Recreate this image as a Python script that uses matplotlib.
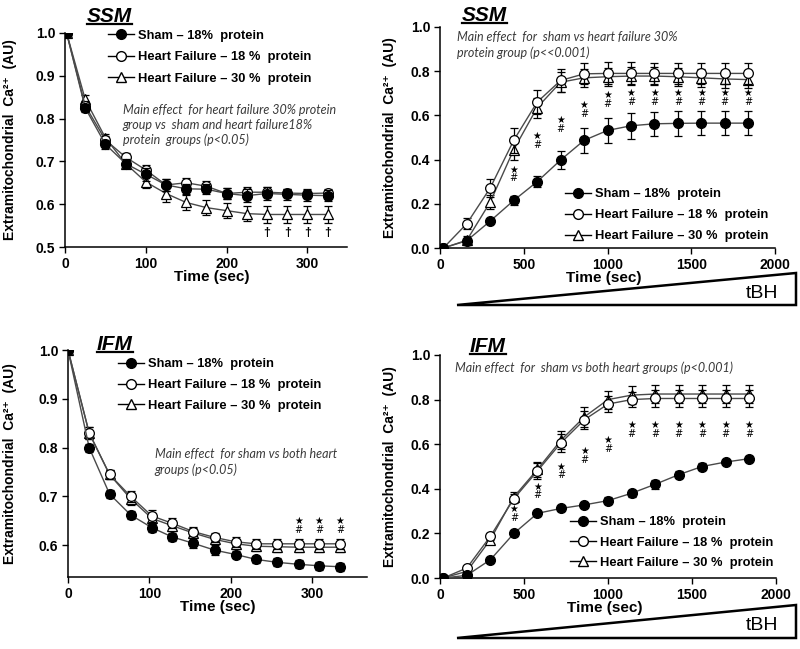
import matplotlib.pyplot as plt
from matplotlib.lines import Line2D
from matplotlib.patches import Polygon

plt.rcParams['font.family'] = ['Liberation Sans', 'DejaVu Sans']

# ---- SSM, calcium release (top left) ----
t_a = [2, 25, 50, 75, 100, 125, 150, 175, 200, 225, 250, 275, 300, 325]
sham_a = [1.0, 0.825, 0.74, 0.695, 0.67, 0.645, 0.636, 0.635, 0.625, 0.62, 0.625, 0.623, 0.621, 0.62]
sham_a_err = [0, 0.01, 0.01, 0.01, 0.015, 0.015, 0.012, 0.012, 0.013, 0.015, 0.015, 0.013, 0.013, 0.013]
hf18_a = [1.0, 0.83, 0.75, 0.71, 0.68, 0.645, 0.65, 0.642, 0.625, 0.628, 0.628, 0.626, 0.625, 0.626]
hf18_a_err = [0, 0.01, 0.01, 0.01, 0.012, 0.015, 0.012, 0.012, 0.012, 0.012, 0.012, 0.01, 0.01, 0.01]
hf30_a = [1.0, 0.845, 0.755, 0.695, 0.652, 0.625, 0.604, 0.592, 0.585, 0.578, 0.576, 0.576, 0.576, 0.576]
hf30_a_err = [0, 0.01, 0.01, 0.01, 0.015, 0.02, 0.018, 0.018, 0.018, 0.018, 0.02, 0.02, 0.02, 0.02]
dagger_t = [250, 275, 300, 325]
dagger_y = [0.532, 0.532, 0.532, 0.532]

# ---- SSM, tBH (top right) ----
t_b = [20, 160, 300, 440, 580, 720, 860, 1000, 1140, 1280, 1420, 1560, 1700, 1840]
sham_b = [0.0, 0.033, 0.122, 0.215, 0.30, 0.398, 0.487, 0.532, 0.553, 0.562, 0.564, 0.565, 0.565, 0.565]
sham_b_err = [0, 0.01, 0.01, 0.02, 0.025, 0.04, 0.055, 0.058, 0.058, 0.055, 0.055, 0.055, 0.055, 0.055]
hf18_b = [0.0, 0.11, 0.272, 0.487, 0.66, 0.758, 0.788, 0.79, 0.79, 0.79, 0.79, 0.79, 0.79, 0.79]
hf18_b_err = [0, 0.025, 0.04, 0.055, 0.055, 0.05, 0.048, 0.05, 0.05, 0.048, 0.048, 0.048, 0.048, 0.048]
hf30_b = [0.0, 0.035, 0.208, 0.445, 0.635, 0.75, 0.77, 0.775, 0.778, 0.778, 0.775, 0.77, 0.765, 0.762]
hf30_b_err = [0, 0.02, 0.03, 0.045, 0.045, 0.045, 0.04, 0.04, 0.04, 0.04, 0.04, 0.04, 0.04, 0.04]
mark_b_t = [440, 580, 720, 860, 1000, 1140, 1280, 1420, 1560, 1700, 1840]
mark_b_y = [0.335, 0.485, 0.558, 0.628, 0.673, 0.68, 0.68, 0.68, 0.68, 0.68, 0.68]

# ---- IFM, calcium release (bottom left) ----
t_c = [0, 26, 51, 77, 103, 128, 154, 180, 206, 231, 257, 283, 308, 334]
sham_c = [1.0, 0.80, 0.705, 0.662, 0.636, 0.617, 0.604, 0.59, 0.581, 0.571, 0.565, 0.561, 0.558, 0.556]
sham_c_err = [0, 0.008, 0.008, 0.008, 0.008, 0.008, 0.01, 0.01, 0.008, 0.008, 0.008, 0.008, 0.008, 0.008]
hf18_c = [1.0, 0.83, 0.745, 0.70, 0.66, 0.645, 0.628, 0.616, 0.607, 0.603, 0.603, 0.603, 0.603, 0.603]
hf18_c_err = [0, 0.012, 0.01, 0.012, 0.012, 0.01, 0.01, 0.01, 0.01, 0.01, 0.01, 0.01, 0.01, 0.01]
hf30_c = [1.0, 0.83, 0.745, 0.695, 0.655, 0.64, 0.625, 0.612, 0.603, 0.598, 0.597, 0.596, 0.596, 0.596]
hf30_c_err = [0, 0.012, 0.01, 0.012, 0.012, 0.01, 0.01, 0.01, 0.01, 0.01, 0.01, 0.01, 0.01, 0.01]
mark_c_t = [283, 308, 334]
mark_c_y = [0.641, 0.641, 0.641]

# ---- IFM, tBH (bottom right) ----
t_d = [20, 160, 300, 440, 580, 720, 860, 1000, 1140, 1280, 1420, 1560, 1700, 1840]
sham_d = [0.0, 0.012, 0.082, 0.20, 0.29, 0.312, 0.328, 0.347, 0.38, 0.42, 0.463, 0.50, 0.52, 0.535]
sham_d_err = [0, 0.008, 0.008, 0.01, 0.01, 0.01, 0.01, 0.015, 0.015, 0.02, 0.015, 0.015, 0.01, 0.01]
hf18_d = [0.0, 0.045, 0.187, 0.356, 0.48, 0.606, 0.71, 0.78, 0.80, 0.805, 0.805, 0.805, 0.805, 0.805]
hf18_d_err = [0, 0.01, 0.015, 0.02, 0.035, 0.04, 0.04, 0.035, 0.035, 0.04, 0.04, 0.04, 0.04, 0.04]
hf30_d = [0.0, 0.03, 0.172, 0.364, 0.487, 0.618, 0.723, 0.80, 0.82, 0.825, 0.825, 0.825, 0.825, 0.825]
hf30_d_err = [0, 0.01, 0.015, 0.02, 0.035, 0.04, 0.045, 0.04, 0.04, 0.04, 0.04, 0.04, 0.04, 0.04]
mark_d_t = [440, 580, 720, 860, 1000, 1140, 1280, 1420, 1560, 1700, 1840]
mark_d_y = [0.29, 0.39, 0.48, 0.55, 0.598, 0.665, 0.665, 0.665, 0.665, 0.665, 0.665]

ticks_x_ca = [0, 100, 200, 300]
ticks_x_tbh = [0, 500, 1000, 1500, 2000]
ticks_y_ssm = [0.5, 0.6, 0.7, 0.8, 0.9, 1.0]
ticks_y_ifm = [0.6, 0.7, 0.8, 0.9, 1.0]
ticks_y_tbh = [0.0, 0.2, 0.4, 0.6, 0.8, 1.0]

labels = ['Sham – 18%  protein', 'Heart Failure – 18 %  protein', 'Heart Failure – 30 %  protein']
ylabel = 'Extramitochondrial  Ca²⁺  (AU)'
note_color = '#3a3a3a'


def painel(ax, t, s, se, h18, h18e, h30, h30e, xt, yt, xlim, ylim):
    kw = dict(color='#4a4a4a', lw=1, ecolor='black', elinewidth=0.9, capsize=3, capthick=0.9)
    ax.errorbar(t, h30, yerr=h30e, fmt='-^', ms=7, mfc='white', mec='black', mew=0.9, zorder=3, **kw)
    ax.errorbar(t, h18, yerr=h18e, fmt='-o', ms=7, mfc='white', mec='black', mew=0.9, zorder=4, **kw)
    ax.errorbar(t, s, yerr=se, fmt='-o', ms=7, mfc='black', mec='black', zorder=5, **kw)
    for sp in ['top', 'right']:
        ax.spines[sp].set_visible(False)
    for sp in ['left', 'bottom']:
        ax.spines[sp].set_linewidth(1.1)
    ax.set_xticks(xt)
    ax.set_yticks(yt)
    ax.set_xticklabels([str(v) for v in xt], fontweight='bold')
    ax.set_yticklabels(['%.1f' % v for v in yt], fontweight='bold')
    ax.set_xlim(*xlim)
    ax.set_ylim(*ylim)
    ax.tick_params(direction='out', length=4, width=1, labelsize=10, pad=3)
    ax.set_xlabel('Time (sec)', fontsize=11, fontweight='bold')
    ax.set_ylabel(ylabel, fontsize=10, fontweight='bold')


def legenda(ax, x, y, esp):
    h = [Line2D([], [], color='black', lw=1, marker='o', ms=7, mfc='black', mec='black'),
         Line2D([], [], color='black', lw=1, marker='o', ms=7, mfc='white', mec='black'),
         Line2D([], [], color='black', lw=1, marker='^', ms=7, mfc='white', mec='black')]
    ax.legend(h, labels, loc='upper left', bbox_to_anchor=(x, y), frameon=False,
              prop={'weight': 'bold', 'size': 9.3}, handlelength=2.0, handletextpad=0.3,
              labelspacing=esp, borderpad=0, borderaxespad=0)


def nota(ax, x, y, txt):
    ax.text(x, y, txt, transform=ax.transAxes, fontsize=9, style='italic', family='Lato',
            color=note_color, va='center', linespacing=1.3)


def estrelas(ax, tt, yy):
    for t, y in zip(tt, yy):
        ax.text(t, y, '★\n#', ha='center', va='center', fontsize=7, linespacing=0.85, family='DejaVu Sans')


fig = plt.figure(figsize=(8, 6.49), dpi=100)
ax1 = fig.add_axes([65 / 800, 1 - 247 / 649, 282 / 800, 214 / 649])
ax2 = fig.add_axes([440 / 800, 1 - 248 / 649, 335 / 800, 221 / 649])
ax3 = fig.add_axes([68 / 800, 1 - 577 / 649, 299 / 800, 227 / 649])
ax4 = fig.add_axes([440 / 800, 1 - 578 / 649, 336 / 800, 223 / 649])

# top left
painel(ax1, t_a, sham_a, sham_a_err, hf18_a, hf18_a_err, hf30_a, hf30_a_err,
       ticks_x_ca, ticks_y_ssm, (0, 349), (0.5, 1.0))
for t, y in zip(dagger_t, dagger_y):
    ax1.text(t, y, '†', ha='center', va='center', fontsize=9, fontweight='bold')
nota(ax1, 0.205, 0.57, 'Main effect  for heart failure 30% protein\ngroup vs  sham and heart failure18%\nprotein  groups (p<0.05)')
legenda(ax1, 0.152, 1.016, 0.74)

# top right
painel(ax2, t_b, sham_b, sham_b_err, hf18_b, hf18_b_err, hf30_b, hf30_b_err,
       ticks_x_tbh, ticks_y_tbh, (0, 2000), (0, 1.0))
estrelas(ax2, mark_b_t, mark_b_y)
nota(ax2, 0.05, 0.92, 'Main effect  for  sham vs heart failure 30%\nprotein group (p<<0.001)')
legenda(ax2, 0.373, 0.27, 0.68)

# bottom left
painel(ax3, t_c, sham_c, sham_c_err, hf18_c, hf18_c_err, hf30_c, hf30_c_err,
       ticks_x_ca, ticks_y_ifm, (0, 367), (0.535, 1.0))
estrelas(ax3, mark_c_t, mark_c_y)
nota(ax3, 0.29, 0.505, 'Main effect  for sham vs both heart\ngroups (p<0.05)')
legenda(ax3, 0.167, 0.964, 0.68)

# bottom right
painel(ax4, t_d, sham_d, sham_d_err, hf18_d, hf18_d_err, hf30_d, hf30_d_err,
       ticks_x_tbh, ticks_y_tbh, (0, 2000), (0, 1.0))
estrelas(ax4, mark_d_t, mark_d_y)
nota(ax4, 0.045, 0.942, 'Main effect  for  sham vs both heart groups (p<0.001)')
legenda(ax4, 0.387, 0.276, 0.62)

# axis label placement
ax1.yaxis.set_label_coords(-0.17, 0.5)
ax2.yaxis.set_label_coords(-0.128, 0.5)
ax3.yaxis.set_label_coords(-0.17, 0.5)
ax4.yaxis.set_label_coords(-0.128, 0.5)
ax1.xaxis.set_label_coords(0.52, -0.107)
ax2.xaxis.set_label_coords(0.49, -0.104)
ax3.xaxis.set_label_coords(0.50, -0.101)
ax4.xaxis.set_label_coords(0.49, -0.103)

# panel titles, underlined
titulos = []
for ax, txt, x, y in [(ax1, 'SSM', 0.078, 1.079), (ax2, 'SSM', 0.066, 1.054),
                      (ax3, 'IFM', 0.097, 1.026), (ax4, 'IFM', 0.089, 1.04)]:
    titulos.append(ax.text(x, y, txt, transform=ax.transAxes, fontsize=15, fontweight='bold',
                           style='italic', ha='left', va='center'))
fig.canvas.draw()
r = fig.canvas.get_renderer()
inv = fig.transFigure.inverted()
for tt in titulos:
    bb = tt.get_window_extent(r).transformed(inv)
    fig.add_artist(Line2D([bb.x0, bb.x1], [bb.y0 + 0.002, bb.y0 + 0.002], color='black', lw=1.6,
                          transform=fig.transFigure))

# tBH wedges
for top, bot, ty in [(273, 305, 293), (605, 638, 625)]:
    tri = Polygon([(457 / 800, 1 - bot / 649), (796 / 800, 1 - top / 649), (796 / 800, 1 - bot / 649)],
                  closed=True, transform=fig.transFigure, facecolor='white', edgecolor='black', lw=1.8)
    fig.add_artist(tri)
    fig.text(762 / 800, 1 - ty / 649, 'tBH', fontsize=14, ha='center', va='center')

fig.savefig('out.png', dpi=100, facecolor='white')
